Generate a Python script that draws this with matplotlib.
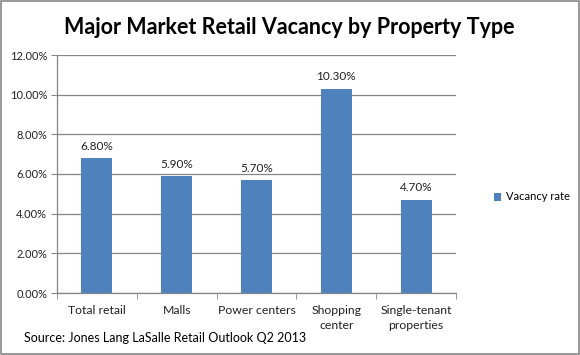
import matplotlib
matplotlib.use("Agg")
import matplotlib.pyplot as plt
from matplotlib.patches import Rectangle
from matplotlib.ticker import FuncFormatter, FixedLocator
import numpy as np

categories = ["Total retail", "Malls", "Power centers", "Shopping\ncenter", "Single-tenant\nproperties"]
values = [6.80, 5.90, 5.70, 10.30, 4.70]
series_name = "Vacancy rate"
title = "Major Market Retail Vacancy by Property Type"
source = "Source: Jones Lang LaSalle Retail Outlook Q2 2013"

plt.rcParams['font.family'] = ['Lato', 'DejaVu Sans']

fig = plt.figure(figsize=(5.8, 3.55), dpi=100)
fig.patches.append(Rectangle((0.001, 0.002), 0.997, 0.995, transform=fig.transFigure,
                             fill=False, edgecolor="#888888", linewidth=1.2))

ax = fig.add_axes([57/580, 1-293/355, (456-57)/580, (293-55)/355])
x = np.arange(len(categories))
bar_color = "#4F81BD"
bars = ax.bar(x, values, width=0.39, color=bar_color, label=series_name, zorder=3)

for xi, v in zip(x, values):
    ax.text(xi, v + 0.32, f"{v:.2f}%", ha="center", va="bottom", fontsize=8.5, color="#222222")

ax.set_xlim(-0.5, len(categories) - 0.5)
ax.set_ylim(0, 12)
ax.set_yticks(np.arange(0, 12.01, 2))
ax.yaxis.set_major_formatter(FuncFormatter(lambda v, p: f"{v:.2f}%"))
ax.grid(axis="y", color="#868686", linewidth=0.9, zorder=0)

ax.set_xticks(x)
ax.set_xticklabels(categories, fontsize=8.8, color="#222222", linespacing=1.4)
ax.xaxis.set_minor_locator(FixedLocator(np.arange(-0.5, len(categories), 1)))
ax.tick_params(axis="x", which="major", length=0, pad=9)
ax.tick_params(axis="x", which="minor", length=4, color="#868686")
ax.tick_params(axis="y", length=4, color="#868686", labelsize=8, labelcolor="#222222", pad=3)

for s in ["top", "right"]:
    ax.spines[s].set_visible(False)
for s in ["left", "bottom"]:
    ax.spines[s].set_color("#868686")
    ax.spines[s].set_linewidth(0.9)

fig.text(0.5 * (68 + 511) / 580, 1 - 27/355, title, ha="center", va="center",
         fontsize=15.5, fontweight="bold", color="black")

fig.legend(handles=[bars], labels=[series_name], loc="center left",
           bbox_to_anchor=(488/580, 1 - 197/355), frameon=False, fontsize=8,
           handlelength=0.7, handleheight=0.7, handletextpad=0.4, borderpad=0)

fig.text(24/580, 1 - 338/355, source, ha="left", va="center", fontsize=9, color="black")

fig.savefig("out.png", dpi=100)
